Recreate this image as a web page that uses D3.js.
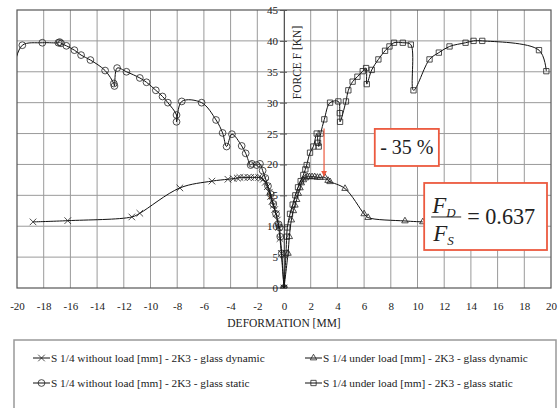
<!DOCTYPE html>
<html>
<head>
<meta charset="utf-8">
<script src="https://cdn.jsdelivr.net/npm/d3@7"></script>
<style>
  body { margin: 0; background: #fff; }
  svg, svg text { font-family: "Liberation Serif", "Times New Roman", "DejaVu Serif", serif !important; }
  svg { display: block; }
</style>
</head>
<body>
<svg id="chart" width="558" height="408"></svg>
<script>
// ---- data (deformation mm, force kN) ----
const dynWithoutX = [-18.8, -16.2, -11.4, -10.8, -7.8, -5.4, -4.2, -3.8, -3.5, -3.3, -3.0, -2.7, -2.5, -2.2, -1.9, -1.7, -1.55, -1.4, -1.25, -1.1, -1.0, -0.9, -0.8, -0.7, -0.6, -0.5, -0.4, -0.3, -0.2, 0];
const dynWithoutY = [10.7, 10.9, 11.5, 12.1, 16.2, 17.3, 17.6, 17.7, 17.8, 17.9, 17.9, 17.9, 17.9, 17.9, 17.9, 17.8, 17.6, 17.1, 16.4, 15.5, 14.8, 14.0, 13.4, 12.7, 12.0, 11.0, 9.8, 8.0, 5.6, 0];

const dynUnderX = [0, 0.3, 0.4, 0.55, 0.7, 0.82, 0.95, 1.07, 1.2, 1.3, 1.45, 1.6, 1.75, 1.9, 2.1, 2.3, 2.5, 2.7, 3.07, 3.3, 3.45, 4.57, 6.0, 6.3, 9.06, 10.4];
const dynUnderY = [0, 5.6, 8.3, 11.0, 12.5, 13.4, 14.3, 15.3, 16.2, 17.0, 17.5, 17.8, 18.0, 18.0, 18.0, 18.0, 17.9, 17.9, 17.9, 17.4, 17.2, 16.1, 12.0, 11.4, 10.85, 10.7];

const statWithoutX = [-20.2, -19.6, -18.1, -16.9, -16.8, -16.7, -16.3, -15.7, -15.2, -14.5, -13.4, -12.75, -12.7, -12.5, -11.8, -10.8, -10.3, -9.6, -9.1, -8.7, -8.05, -8.05, -7.66, -6.17, -5.09, -4.6, -4.3, -3.9, -3.17, -2.87, -2.5, -2.4, -2.05, -1.8, -1.6, -1.4, -1.2, -1.0, -0.8, -0.6, -0.4, -0.33, -0.28, -0.17, 0];
const statWithoutY = [36.0, 39.3, 39.7, 39.7, 39.8, 39.6, 39.2, 38.5, 37.7, 36.9, 35.2, 33.1, 32.7, 35.6, 35.0, 34.0, 33.3, 32.0, 31.0, 30.0, 28.0, 26.9, 30.2, 30.0, 27.2, 25.1, 22.9, 24.9, 23.0, 21.8, 19.9, 20.1, 19.9, 20.1, 19.0, 17.8, 16.5, 15.2, 13.6, 12.0, 10.3, 9.8, 8.3, 5.6, 0];

const statUnderX = [0, 0.15, 0.2, 0.25, 0.45, 0.65, 0.85, 1.05, 1.25, 1.45, 1.6, 1.7, 1.95, 2.2, 2.45, 2.55, 2.6, 2.75, 3.02, 3.45, 4.07, 4.18, 4.2, 4.64, 4.82, 5.14, 5.5, 5.9, 6.15, 6.2, 6.57, 7.07, 7.57, 7.9, 8.24, 8.9, 9.5, 9.7, 10.9, 11.6, 12.4, 13.6, 14.2, 14.85, 19.1, 19.65];
const statUnderY = [0, 5.6, 8.3, 9.8, 12.0, 13.5, 15.0, 16.3, 17.3, 18.3, 19.2, 19.9, 21.9, 22.9, 25.0, 23.5, 22.9, 25.0, 27.3, 30.0, 30.2, 28.3, 26.9, 30.2, 32.0, 33.4, 34.2, 35.1, 35.6, 33.0, 35.3, 37.0, 38.4, 39.1, 39.7, 39.7, 39.4, 32.0, 37.0, 38.1, 39.1, 39.7, 40.0, 40.0, 38.5, 35.1];

const xTicks = d3.range(-20, 21, 2);
const yTicks = d3.range(0, 46, 5);

const seriesNames = [
  "S 1/4 without load [mm] - 2K3 - glass dynamic",
  "S 1/4 under load [mm] - 2K3 - glass dynamic",
  "S 1/4 without load [mm] - 2K3 - glass static",
  "S 1/4 under load [mm] - 2K3 - glass static"
];

const ratioText = "= 0.637";
const dropText = "- 35 %";

// ---- layout ----
const w = 558, h = 408;
const padLeft = 17, padRight = 551, padTop = 10, padBottom = 288;
const red = "#ec5a3f";
const serif = "'Liberation Serif', 'Times New Roman', serif";

const x = d3.scaleLinear().domain([-20, 20]).range([padLeft, padRight]);
const y = d3.scaleLinear().domain([0, 45]).range([padBottom, padTop]);

const svg = d3.select("#chart");

// grid
svg.append("g")
   .selectAll("line")
   .data(xTicks.filter(d => d > -20 && d < 20))
   .enter().append("line")
   .attr("x1", d => x(d)).attr("x2", d => x(d))
   .attr("y1", padTop).attr("y2", padBottom)
   .attr("stroke", "#9a9a9a").attr("stroke-width", 1);

svg.append("g")
   .selectAll("line")
   .data(yTicks.filter(d => d > 0 && d < 45))
   .enter().append("line")
   .attr("x1", padLeft).attr("x2", padRight)
   .attr("y1", d => y(d)).attr("y2", d => y(d))
   .attr("stroke", "#9a9a9a").attr("stroke-width", 1);

svg.append("rect")
   .attr("x", padLeft).attr("y", padTop)
   .attr("width", padRight - padLeft).attr("height", padBottom - padTop)
   .attr("fill", "none").attr("stroke", "#555").attr("stroke-width", 1.2);

// x axis labels under the plot
const xAxis = d3.axisBottom(x).tickValues(xTicks).tickSize(0).tickPadding(14).tickFormat(d => String(d));
svg.append("g")
   .attr("transform", `translate(0, ${padBottom})`)
   .call(xAxis)
   .attr("font-family", serif)
   .call(g => g.select(".domain").remove())
   .call(g => g.selectAll("text").attr("font-size", 11).attr("fill", "#222"));

// y axis sits on x = 0
const yAxis = d3.axisLeft(y).tickValues(yTicks).tickSize(4).tickPadding(2).tickFormat(d => String(d));
svg.append("g")
   .attr("transform", `translate(${x(0)}, 0)`)
   .call(yAxis)
   .attr("font-family", serif)
   .call(g => g.select(".domain").attr("stroke", "#555"))
   .call(g => g.selectAll(".tick line").attr("stroke", "#555").attr("x2", 3).attr("x1", -4))
   .call(g => g.selectAll("text").attr("font-size", 11).attr("fill", "#222"));

svg.append("text")
   .attr("transform", `translate(${x(1.3)}, ${y(36.5)}) rotate(-90)`)
   .attr("text-anchor", "middle")
   .attr("font-size", 11.5).attr("fill", "#222")
   .text("FORCE F [KN]");

svg.append("text")
   .attr("x", x(0)).attr("y", 327)
   .attr("text-anchor", "middle")
   .attr("font-size", 11.5).attr("fill", "#222")
   .text("DEFORMATION [MM]");

// series
svg.append("clipPath").attr("id", "plotClip")
   .append("rect").attr("x", padLeft).attr("y", padTop).attr("width", padRight - padLeft).attr("height", padBottom - padTop);

const line = d3.line().x(d => x(d[0])).y(d => y(d[1])).curve(d3.curveCatmullRom.alpha(0.5));

const series = [
  {xs: dynWithoutX, ys: dynWithoutY, sym: d3.symbolTimes, size: 30},
  {xs: dynUnderX, ys: dynUnderY, sym: d3.symbolTriangle2, size: 30},
  {xs: statWithoutX, ys: statWithoutY, sym: d3.symbolCircle, size: 36},
  {xs: statUnderX, ys: statUnderY, sym: d3.symbolSquare2, size: 36}
];

const plot = svg.append("g").attr("clip-path", "url(#plotClip)");

series.forEach(s => {
  const pts = s.xs.map((v, i) => [v, s.ys[i]]);
  plot.append("path")
      .datum(pts)
      .attr("d", line)
      .attr("fill", "none").attr("stroke", "#111").attr("stroke-width", 1);
  plot.append("g")
      .selectAll("path")
      .data(pts.filter(p => p[0] >= -20 && p[0] <= 20))
      .enter().append("path")
      .attr("transform", p => `translate(${x(p[0])}, ${y(p[1])})`)
      .attr("d", d3.symbol().type(s.sym).size(s.size))
      .attr("fill", "none").attr("stroke", "#222").attr("stroke-width", 0.8);
});

// red arrow -35 %
svg.append("defs").append("marker")
   .attr("id", "arrow").attr("viewBox", "0 0 10 10")
   .attr("refX", 9).attr("refY", 5)
   .attr("markerWidth", 5).attr("markerHeight", 5)
   .attr("orient", "auto")
   .append("path").attr("d", "M0,0 L10,5 L0,10 z").attr("fill", red);

svg.append("line")
   .attr("x1", x(3.0)).attr("x2", x(3.0))
   .attr("y1", y(25.8)).attr("y2", y(18.1))
   .attr("stroke", red).attr("stroke-width", 1.2)
   .attr("marker-end", "url(#arrow)");

svg.append("rect")
   .attr("x", x(6.8)).attr("y", y(25.75))
   .attr("width", x(11.6) - x(6.8)).attr("height", y(19.75) - y(25.75))
   .attr("fill", "#fff").attr("stroke", red).attr("stroke-width", 1.8);

svg.append("text")
   .attr("x", x(9.2)).attr("y", y(22.75)).attr("dy", "0.35em")
   .attr("text-anchor", "middle")
   .attr("font-size", 20).attr("fill", "#222")
   .text(dropText);

// F_D / F_S box
const bx = x(10.5), by = y(17.0), bw = x(19.7) - x(10.5), bh = y(6.15) - y(17.0);
svg.append("rect")
   .attr("x", bx).attr("y", by).attr("width", bw).attr("height", bh)
   .attr("fill", "#fff").attr("stroke", red).attr("stroke-width", 1.8);

const fr = svg.append("g").attr("font-size", 23).attr("fill", "#222");
const fd = fr.append("text").attr("x", bx + 8).attr("y", by + 30);
fd.append("tspan").attr("font-style", "italic").text("F");
fd.append("tspan").attr("font-style", "italic").attr("font-size", 13).attr("dy", 4).text("D");
fr.append("line")
   .attr("x1", bx + 7).attr("x2", bx + 37)
   .attr("y1", by + 34).attr("y2", by + 34)
   .attr("stroke", "#222").attr("stroke-width", 1);
const fs = fr.append("text").attr("x", bx + 9).attr("y", by + 58);
fs.append("tspan").attr("font-style", "italic").text("F");
fs.append("tspan").attr("font-style", "italic").attr("font-size", 13).attr("dy", 4).text("S");
fr.append("text")
   .attr("x", bx + 43).attr("y", by + 41)
   .attr("font-size", 24)
   .attr("textLength", 68)
   .attr("lengthAdjust", "spacingAndGlyphs")
   .text(ratioText);

// legend
svg.append("rect")
   .attr("x", 14).attr("y", 340).attr("width", 542).attr("height", 90)
   .attr("fill", "#fff").attr("stroke", "#999").attr("stroke-width", 1.5);

const legendPos = [[33, 358], [305, 358], [33, 383], [305, 383]];
series.forEach((s, i) => {
  const [lx, ly] = legendPos[i];
  const g = svg.append("g").attr("transform", `translate(${lx}, ${ly})`);
  g.append("line").attr("x1", 0).attr("x2", 17).attr("y1", 0).attr("y2", 0)
   .attr("stroke", "#111").attr("stroke-width", 1);
  g.append("path").attr("transform", "translate(8.5, 0)")
   .attr("d", d3.symbol().type(s.sym).size(s.size))
   .attr("fill", "none").attr("stroke", "#222").attr("stroke-width", 0.8);
  g.append("text").attr("x", 18).attr("y", 0).attr("dy", "0.33em")
   .attr("font-size", 11.3).attr("fill", "#222")
   .text(seriesNames[i]);
});
</script>
</body>
</html>
